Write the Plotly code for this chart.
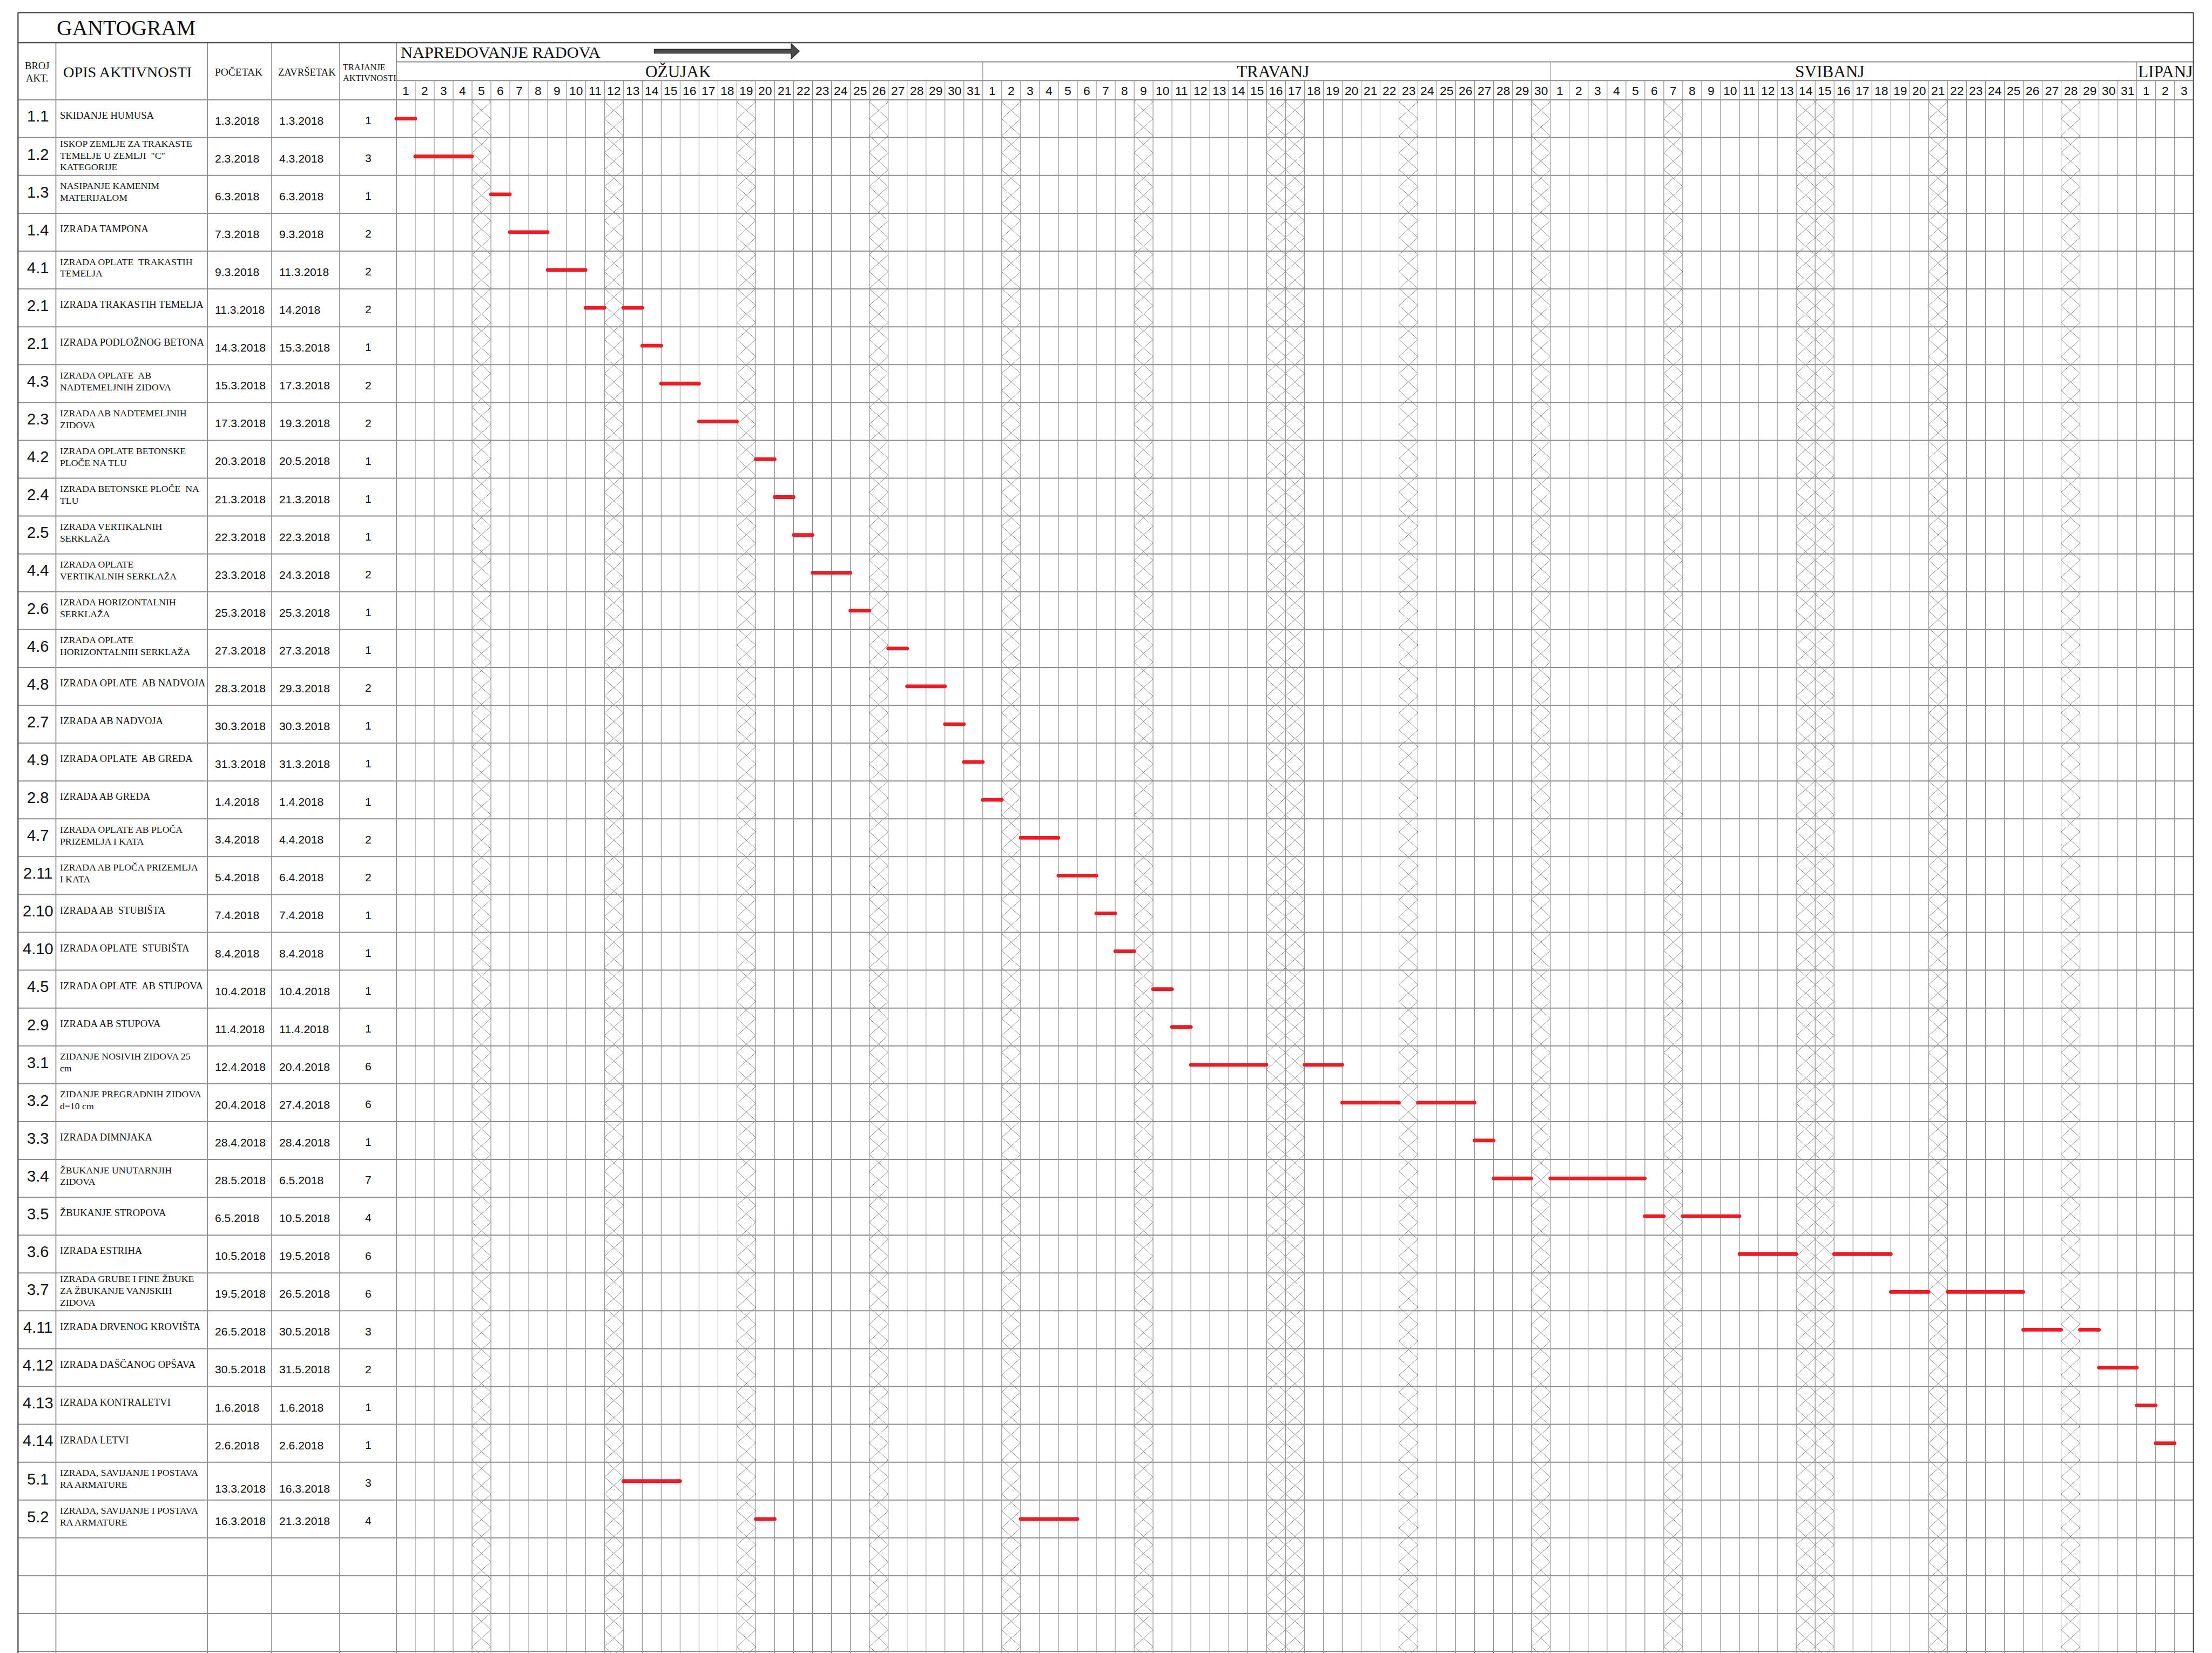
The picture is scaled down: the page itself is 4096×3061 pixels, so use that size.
import math
import plotly.graph_objects as go

# ---------------- data ----------------
act_no = ["1.1", "1.2", "1.3", "1.4", "4.1", "2.1", "2.1", "4.3", "2.3", "4.2",
          "2.4", "2.5", "4.4", "2.6", "4.6", "4.8", "2.7", "4.9", "2.8", "4.7",
          "2.11", "2.10", "4.10", "4.5", "2.9", "3.1", "3.2", "3.3", "3.4", "3.5",
          "3.6", "3.7", "4.11", "4.12", "4.13", "4.14", "5.1", "5.2"]

act_desc = [
    "SKIDANJE HUMUSA",
    "ISKOP ZEMLJE ZA TRAKASTE|TEMELJE U ZEMLJI  \"C\"|KATEGORIJE",
    "NASIPANJE KAMENIM|MATERIJALOM",
    "IZRADA TAMPONA",
    "IZRADA OPLATE  TRAKASTIH|TEMELJA",
    "IZRADA TRAKASTIH TEMELJA",
    "IZRADA PODLOŽNOG BETONA",
    "IZRADA OPLATE  AB|NADTEMELJNIH ZIDOVA",
    "IZRADA AB NADTEMELJNIH|ZIDOVA",
    "IZRADA OPLATE BETONSKE|PLOČE NA TLU",
    "IZRADA BETONSKE PLOČE  NA|TLU",
    "IZRADA VERTIKALNIH|SERKLAŽA",
    "IZRADA OPLATE|VERTIKALNIH SERKLAŽA",
    "IZRADA HORIZONTALNIH|SERKLAŽA",
    "IZRADA OPLATE|HORIZONTALNIH SERKLAŽA",
    "IZRADA OPLATE  AB NADVOJA",
    "IZRADA AB NADVOJA",
    "IZRADA OPLATE  AB GREDA",
    "IZRADA AB GREDA",
    "IZRADA OPLATE AB PLOČA|PRIZEMLJA I KATA",
    "IZRADA AB PLOČA PRIZEMLJA|I KATA",
    "IZRADA AB  STUBIŠTA",
    "IZRADA OPLATE  STUBIŠTA",
    "IZRADA OPLATE  AB STUPOVA",
    "IZRADA AB STUPOVA",
    "ZIDANJE NOSIVIH ZIDOVA 25|cm",
    "ZIDANJE PREGRADNIH ZIDOVA|d=10 cm",
    "IZRADA DIMNJAKA",
    "ŽBUKANJE UNUTARNJIH|ZIDOVA",
    "ŽBUKANJE STROPOVA",
    "IZRADA ESTRIHA",
    "IZRADA GRUBE I FINE ŽBUKE|ZA ŽBUKANJE VANJSKIH|ZIDOVA",
    "IZRADA DRVENOG KROVIŠTA",
    "IZRADA DAŠČANOG OPŠAVA",
    "IZRADA KONTRALETVI",
    "IZRADA LETVI",
    "IZRADA, SAVIJANJE I POSTAVA|RA ARMATURE",
    "IZRADA, SAVIJANJE I POSTAVA|RA ARMATURE",
]

start_dates = ["1.3.2018", "2.3.2018", "6.3.2018", "7.3.2018", "9.3.2018", "11.3.2018",
               "14.3.2018", "15.3.2018", "17.3.2018", "20.3.2018", "21.3.2018", "22.3.2018",
               "23.3.2018", "25.3.2018", "27.3.2018", "28.3.2018", "30.3.2018", "31.3.2018",
               "1.4.2018", "3.4.2018", "5.4.2018", "7.4.2018", "8.4.2018", "10.4.2018",
               "11.4.2018", "12.4.2018", "20.4.2018", "28.4.2018", "28.5.2018", "6.5.2018",
               "10.5.2018", "19.5.2018", "26.5.2018", "30.5.2018", "1.6.2018", "2.6.2018",
               "13.3.2018", "16.3.2018"]

end_dates = ["1.3.2018", "4.3.2018", "6.3.2018", "9.3.2018", "11.3.2018", "14.2018",
             "15.3.2018", "17.3.2018", "19.3.2018", "20.5.2018", "21.3.2018", "22.3.2018",
             "24.3.2018", "25.3.2018", "27.3.2018", "29.3.2018", "30.3.2018", "31.3.2018",
             "1.4.2018", "4.4.2018", "6.4.2018", "7.4.2018", "8.4.2018", "10.4.2018",
             "11.4.2018", "20.4.2018", "27.4.2018", "28.4.2018", "6.5.2018", "10.5.2018",
             "19.5.2018", "26.5.2018", "30.5.2018", "31.5.2018", "1.6.2018", "2.6.2018",
             "16.3.2018", "21.3.2018"]

durations = [1, 3, 1, 2, 2, 2, 1, 2, 2, 1, 1, 1, 2, 1, 1, 2, 1, 1, 1, 2,
             2, 1, 1, 1, 1, 6, 6, 1, 7, 4, 6, 6, 3, 2, 1, 1, 3, 4]

# bar segments per activity: (first day, last day), days counted from 1 = 1 March
bar_segments = [
    [(1, 1)], [(2, 4)], [(6, 6)], [(7, 8)], [(9, 10)], [(11, 11), (13, 13)],
    [(14, 14)], [(15, 16)], [(17, 18)], [(20, 20)], [(21, 21)], [(22, 22)],
    [(23, 24)], [(25, 25)], [(27, 27)], [(28, 29)], [(30, 30)], [(31, 31)],
    [(32, 32)], [(34, 35)], [(36, 37)], [(38, 38)], [(39, 39)], [(41, 41)],
    [(42, 42)], [(43, 46), (49, 50)], [(51, 53), (55, 57)], [(58, 58)],
    [(59, 60), (62, 66)], [(67, 67), (69, 71)], [(72, 74), (77, 79)],
    [(80, 81), (83, 86)], [(87, 88), (90, 90)], [(91, 92)], [(93, 93)], [(94, 94)],
    [(13, 15)], [(20, 20), (34, 36)],
]

# non-working (hatched) days, counted from 1 = 1 March
hatched_days = [5, 12, 19, 26, 33, 40, 47, 48, 54, 61, 68, 75, 76, 82, 89]

month_names = ["OŽUJAK", "TRAVANJ", "SVIBANJ", "LIPANJ"]
month_days = [31, 30, 31, 3]
day_labels = [str(d) for n in month_days for d in range(1, n + 1)]

n_empty_rows = 4

# ---------------- geometry / style (reference pixels) ----------------
S = 0.845
REF_W, REF_H = 4847, 3622
X_L, X_R = 30, 4797
Y_TOP, Y_TITLE, Y_NAP, Y_MON, Y_HDR = 18, 84, 126, 167, 209
COL_X = [30, 113, 445, 586, 735, 859]
G0 = COL_X[-1]
N_DAYS = len(day_labels)
DAY_W = (X_R - G0) / N_DAYS
ROW_H = 82.93
MONTH_LABEL_DX = [-25, 14, -30, 0]

SERIF = "Liberation Serif, Times New Roman, serif"
SANS = "Liberation Sans, Arial, sans-serif"
TXT = "#111111"


def gx(d):
    return G0 + d * DAY_W


def row_top(i):
    return Y_HDR + i * ROW_H


fig = go.Figure()


def add_segments(segs, color, width):
    xs, ys = [], []
    for (x0, y0, x1, y1) in segs:
        xs += [x0, x1, None]
        ys += [y0, y1, None]
    fig.add_trace(go.Scatter(x=xs, y=ys, mode="lines",
                             line=dict(color=color, width=width),
                             hoverinfo="skip", showlegend=False))


# ---- hatched columns (zig-zag cross hatch) ----
HATCH_H = 37.2
y_edge0 = 2613 - HATCH_H / 2


def tri(y):
    t = ((y - y_edge0) / HATCH_H) % 2
    return t if t <= 1 else 2 - t


hx, hy = [], []
k0 = math.ceil((Y_HDR - y_edge0) / HATCH_H)
k1 = math.floor((REF_H - y_edge0) / HATCH_H) + 1
ys_h = [Y_HDR] + [y_edge0 + k * HATCH_H for k in range(k0, k1 + 1)]
for d in hatched_days:
    xl, xr = gx(d - 1), gx(d)
    w = xr - xl
    hx += [xl + w * tri(y) for y in ys_h] + [None]
    hy += ys_h + [None]
    hx += [xr - w * tri(y) for y in ys_h] + [None]
    hy += ys_h + [None]
fig.add_trace(go.Scatter(x=hx, y=hy, mode="lines",
                         line=dict(color="#8a8a8a", width=1),
                         hoverinfo="skip", showlegend=False))

# ---- vertical day lines ----
month_bounds = []
acc = 0
for n in month_days[:-1]:
    acc += n
    month_bounds.append(acc)
vsegs = []
for d in range(1, N_DAYS):
    top = Y_NAP if d in month_bounds else Y_MON
    vsegs.append((gx(d), top, gx(d), REF_H))
add_segments(vsegs, "#858585", 1.1)

# ---- left table column lines ----
add_segments([(x, Y_TITLE, x, REF_H) for x in COL_X[1:]], "#7a7a7a", 1.6)

# ---- horizontal lines ----
n_rows = len(act_no) + n_empty_rows
hsegs = [(G0, Y_NAP, X_R, Y_NAP), (G0, Y_MON, X_R, Y_MON)]
hsegs += [(X_L, row_top(i), X_R, row_top(i)) for i in range(0, n_rows + 1)]
add_segments(hsegs, "#8e8e8e", 2.0)

# ---- outer border ----
add_segments([(X_L, Y_TOP, X_R, Y_TOP), (X_L, Y_TITLE, X_R, Y_TITLE),
              (X_L, Y_TOP, X_L, REF_H), (X_R, Y_TOP, X_R, REF_H)], "#555555", 2.4)

# ---- red activity bars ----
bx, by = [], []
for i, segs in enumerate(bar_segments):
    yc = row_top(i) + ROW_H / 2
    for (s, e) in segs:
        bx += [gx(s - 1), gx(e), None]
        by += [yc, yc, None]
fig.add_trace(go.Scatter(x=bx, y=by, mode="lines+markers",
                         line=dict(color="#ed1c24", width=6.8),
                         marker=dict(color="#ed1c24", size=6.8),
                         hoverinfo="skip", showlegend=False))

# ---- arrow (NAPREDOVANJE RADOVA) ----
ax0, ax1, ay = 1424, 1742, 102.8
head_l, head_h, shaft_h = 18, 16.7, 4.5
fig.add_trace(go.Scatter(
    x=[ax0, ax1 - head_l, ax1 - head_l, ax1, ax1 - head_l, ax1 - head_l, ax0, ax0],
    y=[ay - shaft_h, ay - shaft_h, ay - head_h, ay, ay + head_h, ay + shaft_h, ay + shaft_h, ay - shaft_h],
    mode="lines", fill="toself", fillcolor="#4a4a4a",
    line=dict(color="#222222", width=1.2), hoverinfo="skip", showlegend=False))

# ---------------- texts ----------------
ann = []


def txt(x, y, s, size_ref, family, xanchor="left"):
    ann.append(dict(x=x, y=y, xref="x", yref="y", text=s, showarrow=False,
                    xanchor=xanchor, yanchor="middle",
                    font=dict(size=size_ref * S, family=family, color=TXT)))


txt(113, 52, "GANTOGRAM", 47, SERIF)
txt(866, 105, "NAPREDOVANJE RADOVA", 36, SERIF)

# month names
acc = 0
for name, n, dx in zip(month_names, month_days, MONTH_LABEL_DX):
    txt((gx(acc) + gx(acc + n)) / 2 + dx, 147, name, 37, SERIF, "center")
    acc += n

# day numbers
for d, lab in enumerate(day_labels):
    txt((gx(d) + gx(d + 1)) / 2, 189, lab, 27, SANS, "center")

# table header
txt(71, 134, "BROJ", 22, SERIF, "center")
txt(71, 161, "AKT.", 22, SERIF, "center")
txt(127, 148, "OPIS AKTIVNOSTI", 33.5, SERIF)
txt(459, 148, "POČETAK", 23, SERIF)
txt(597, 148, "ZAVRŠETAK", 22, SERIF)
txt(739, 138, "TRAJANJE", 19.3, SERIF)
txt(739, 161, "AKTIVNOSTI", 19.3, SERIF)

# rows
for i in range(len(act_no)):
    top = row_top(i)
    txt(74, top + 0.44 * ROW_H, act_no[i], 34.5, SANS, "center")
    lines = act_desc[i].split("|")
    if len(lines) == 1:
        fr, fs = [0.41], 22
    elif len(lines) == 2:
        fr, fs = [0.28, 0.59], 21
    else:
        fr, fs = [0.16, 0.47, 0.78], 21
    for ln, f in zip(lines, fr):
        txt(120, top + f * ROW_H, ln, fs, SERIF)
    dy = 0.70 if i == 36 else 0.55
    txt(459, top + dy * ROW_H, start_dates[i], 25, SANS)
    txt(600, top + dy * ROW_H, end_dates[i], 25, SANS)
    txt(797, top + 0.54 * ROW_H, str(durations[i]), 25, SANS, "center")

fig.update_layout(
    width=4096, height=3061,
    margin=dict(l=0, r=0, t=0, b=0, pad=0),
    paper_bgcolor="white", plot_bgcolor="white",
    showlegend=False,
    annotations=ann,
    xaxis=dict(range=[0, REF_W], visible=False, fixedrange=True),
    yaxis=dict(range=[REF_H, 0], visible=False, fixedrange=True),
)

fig.write_html("out.html")
